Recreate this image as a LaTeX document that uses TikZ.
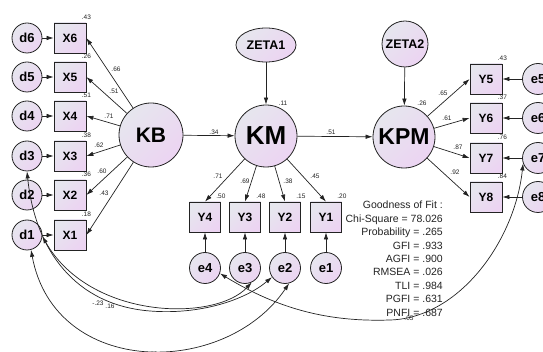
\documentclass[tikz,border=0pt]{standalone}
\usepackage{fontspec}
\setmainfont{Liberation Sans}
\usetikzlibrary{arrows.meta,shapes.geometric}
\definecolor{semtop}{RGB}{230,230,238}
\definecolor{sembot}{RGB}{236,212,242}
\definecolor{semline}{RGB}{35,35,35}

\begin{document}
\begin{tikzpicture}[x=1pt,y=-1pt,
    >={Latex[length=7pt,width=4.5pt]},
    base/.style={draw=semline, line width=0.8pt, top color=semtop, bottom color=sembot,
      shading angle=45, text=black, inner sep=0pt},
    latent/.style={base, circle},
    obs/.style={base, rectangle, minimum width=32pt, minimum height=30pt,
      font=\bfseries\fontsize{12}{12}\selectfont},
    err/.style={base, circle, minimum size=30pt, font=\bfseries\fontsize{13}{13}\selectfont},
    lbl/.style={font=\fontsize{6.5}{6.5}\selectfont, text=semline, inner sep=0.5pt},
    lnk/.style={->, draw=semline, line width=0.7pt},
    cov/.style={<->, draw=semline, line width=0.7pt}]
  \useasboundingbox (0,0) rectangle (543,352);

  % latent variables
  \node[latent, minimum size=64pt, font=\bfseries\fontsize{21}{21}\selectfont] (KB) at (151,135) {KB};
  \node[latent, minimum size=62pt, font=\bfseries\fontsize{26}{26}\selectfont] (KM) at (266,136) {KM};
  \node[latent, minimum size=62pt, font=\bfseries\fontsize{23}{23}\selectfont] (KPM) at (404,137) {KPM};
  \node[base, ellipse, minimum width=60pt, minimum height=34pt,
    font=\bfseries\fontsize{12.5}{12.5}\selectfont] (ZETA1) at (266,45) {ZETA1};
  \node[latent, minimum size=46pt, font=\bfseries\fontsize{12.5}{12.5}\selectfont] (ZETA2) at (405,44) {ZETA2};

  \draw[lnk] (KB) -- (KM);
  \draw[lnk] (KM) -- (KPM);
  \draw[lnk] (ZETA1) -- (KM);
  \draw[lnk] (ZETA2) -- (KPM);
  \node[lbl] (r2KM) at (283,103) {.11};
  \node[lbl] (r2KPM) at (422,103) {.26};

  % KB block
  \foreach \i/\y/\r in {6/38/.43,5/77/.26,4/116/.51,3/156/.38,2/195/.36,1/235/.18}{
    \node[obs] (X\i) at (70,\y) {X\i};
    \node[err] (d\i) at (27,\y) {d\i};
    \draw[lnk] (d\i) -- (X\i);
    \draw[lnk] (KB) -- (X\i.east);
    \node[lbl, above=2.5pt] (r2X\i) at (X\i.north east) {\r};
  }

  % KM block
  \foreach \i/\x/\r in {4/205/.50,3/245/.48,2/285/.15,1/326/.20}{
    \node[obs, minimum width=31pt] (Y\i) at (\x,217) {Y\i};
    \node[err, minimum size=31pt] (e\i) at (\x,268) {e\i};
    \draw[lnk] (e\i) -- (Y\i);
    \draw[lnk] (KM) -- (Y\i.north);
    \node[lbl, above=2.5pt] (r2Y\i) at (Y\i.north east) {\r};
  }

  % KPM block
  \foreach \i/\y/\r in {5/79/.43,6/118/.37,7/158/.76,8/197/.84}{
    \node[obs] (Y\i) at (486,\y) {Y\i};
    \node[err, minimum size=31pt] (e\i) at (538,\y) {e\i};
    \draw[lnk] (e\i) -- (Y\i);
    \draw[lnk] (KPM) -- (Y\i.west);
    \node[lbl, above=2.5pt] (r2Y\i) at (Y\i.north east) {\r};
  }

  % loadings and paths
  \foreach \t/\x/\y in {.66/116/69,.51/114/91,.71/109/116,.62/99/145,.60/102/171,.43/104/193,
      .34/214/132,.51/331/132,.71/218/176,.69/245/181,.38/288/181,.45/315/176,
      .65/443/93,.61/447/118,.87/458/147,.92/455/172}
    \node[lbl] at (\x,\y) {\t};

  % error covariances
  \draw[cov] (d3.south) .. controls (35,250) and (75,305) .. (150,311)
    .. controls (200,315) and (245,300) .. (e2.-145);
  \draw[cov] (d1.-5) .. controls (90,320) and (215,322) .. (e3.-65);
  \draw[cov] (d1.-75) .. controls (55,378) and (225,378) .. (e2.-75);
  \draw[cov] (e4.-20) .. controls (280,310) and (330,322) .. (390,320)
    .. controls (460,318) and (515,240) .. (e7.200);
  \node[lbl] (c1) at (98,303) {-.23};
  \node[lbl] (c2) at (110,306) {.16};
  \node[lbl] (c3) at (153,354) {.13};
  \node[lbl] (c4) at (409,318) {.05};

  % fit indices
  \node[align=right, anchor=north east, inner sep=0pt, text=semline,
    font=\fontsize{10.5}{13.4}\selectfont] (gof) at (443,201)
    {Goodness of Fit :\\Chi-Square = 78.026\\Probability = .265\\GFI = .933\\
     AGFI = .900\\RMSEA = .026\\TLI = .984\\PGFI = .631\\PNFI = .687};
\end{tikzpicture}
\end{document}
